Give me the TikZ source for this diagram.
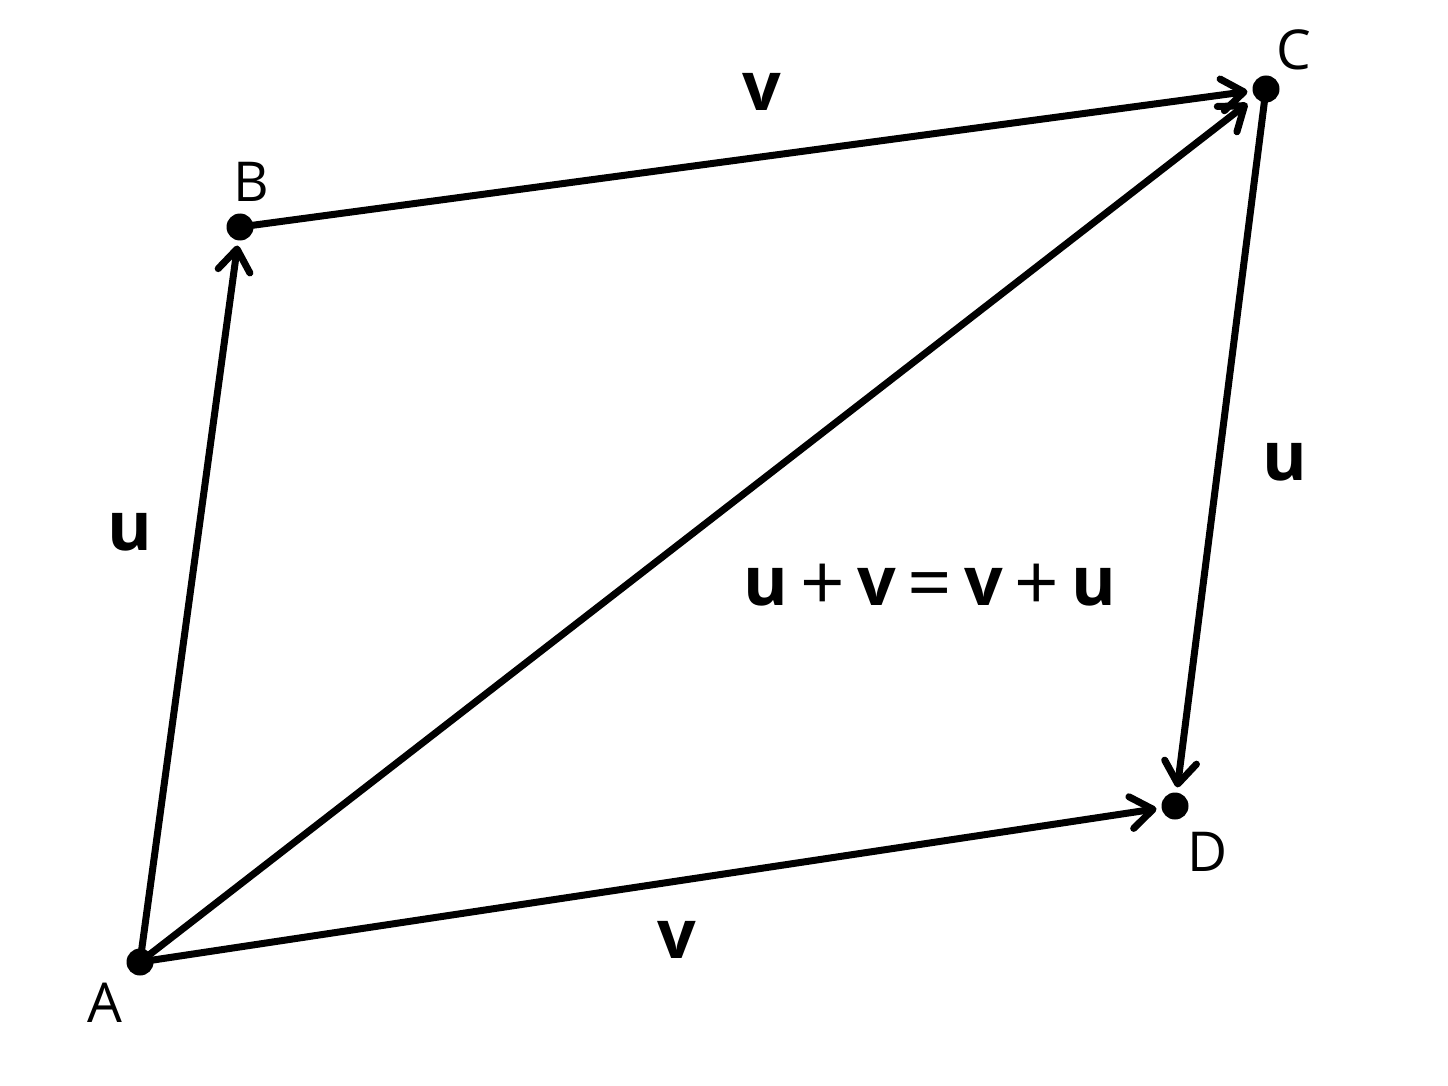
\documentclass[tikz,border=0pt]{standalone}
\usepackage{fontspec}
\setmainfont{Open Sans}
\usetikzlibrary{arrows.meta}
\newcommand{\opsym}[1]{\hspace{12pt}\raisebox{-5pt}{\fontsize{78}{78}\selectfont#1}\hspace{12pt}}
\begin{document}
\begin{tikzpicture}[x=1pt,y=-1pt,
  pt/.style={circle,fill=black,inner sep=0pt,minimum size=27pt},
  vec/.style={line width=7pt,line cap=round,-{Straight Barb[length=22pt,width=32pt,line width=7pt,line cap=round,line join=round]},shorten >=5pt},
  lab/.style={font=\fontsize{55}{60}\selectfont},
  blab/.style={font=\fontsize{68}{72}\selectfont\bfseries}]
\useasboundingbox (0,0) rectangle (1448,1086);
\node[pt] (A) at (140,962) {};
\node[pt] (B) at (240,227) {};
\node[pt] (C) at (1266,89) {};
\node[pt] (D) at (1175,806) {};
\draw[vec] (A.center) -- (B);
\draw[vec] (B.center) -- (C);
\draw[vec,shorten >=10pt] (A.center) -- (C);
\draw[vec] (C.center) -- (D);
\draw[vec] (A.center) -- (D);
\node[lab] (lA) at (105,1003) {A};
\node[lab] (lB) at (251,182) {B};
\node[lab] (lC) at (1294,50) {C};
\node[lab] (lD) at (1208,852) {D};
\node[blab] (v1) at (762,92) {v};
\node[blab] (v2) at (677,940) {v};
\node[blab] (u1) at (130,532) {u};
\node[blab] (u2) at (1285,462) {u};
\node[font=\fontsize{68}{72}\selectfont,inner sep=0pt,anchor=base] (eq) at (930,605) {\textbf{u}\opsym{+}\textbf{v}\opsym{=}\textbf{v}\opsym{+}\textbf{u}};
\end{tikzpicture}
\end{document}
